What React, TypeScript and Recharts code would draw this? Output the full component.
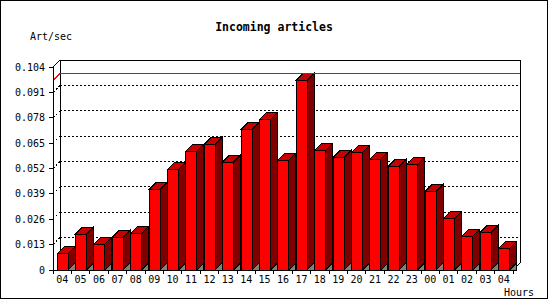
import React from 'react';
import { BarChart, Bar, XAxis, YAxis, CartesianGrid, ReferenceLine } from 'recharts';

const hours = ['04', '05', '06', '07', '08', '09', '10', '11', '12', '13', '14', '15', '16',
  '17', '18', '19', '20', '21', '22', '23', '00', '01', '02', '03', '04'];
const artPerSec = [0.0082, 0.0183, 0.0132, 0.0167, 0.0188, 0.0413, 0.0515, 0.0608, 0.0644, 0.0553,
  0.0720, 0.0771, 0.0562, 0.0971, 0.0612, 0.0577, 0.0602, 0.0567, 0.0532, 0.0541,
  0.0403, 0.0263, 0.0172, 0.0193, 0.0111];
const yTicks = [0, 0.013, 0.026, 0.039, 0.052, 0.065, 0.078, 0.091, 0.104];

const data = hours.map((h, i) => ({ hour: h, rate: artPerSec[i] }));
const maxRate = Math.max(...artPerSec);

const W = 550;
const H = 300;
const D = 7; // 3d depth
const MONO = '"DejaVu Sans Mono", monospace';
const PLOT = { left: 53, right: 513, top: 67, bottom: 270 };

const Bar3D = (props: any) => {
  const { x, y, width, height } = props;
  if (height == null || height <= 0) return null;
  const b = y + height;
  const r = x + width;
  return (
    <g stroke="#000" strokeWidth={1}>
      <polygon points={`${r},${b} ${r + D},${b - D} ${r + D},${b}`} fill="#808080" />
      <polygon points={`${r},${y} ${r + D},${y - D} ${r + D},${b - D} ${r},${b}`} fill="#800000" />
      <polygon points={`${x},${y} ${x + D},${y - D} ${r + D},${y - D} ${r},${y}`} fill="#c80000" />
      <rect x={x} y={y} width={width} height={height} fill="#ff0000" />
    </g>
  );
};

const HourTick = (props: any) => {
  const { x, y, payload, index } = props;
  const half = payload?.offset ?? 9.2;
  const last = index === hours.length - 1;
  return (
    <g>
      <line x1={x - half} y1={y} x2={x - half} y2={y + 4} stroke="#000" />
      {last && <line x1={x + half} y1={y} x2={x + half} y2={y + 4} stroke="#000" />}
      <text x={x} y={y + 13} textAnchor="middle" fontFamily={MONO} fontSize={10} fill="#000">
        {payload.value}
      </text>
    </g>
  );
};

const gridLine = (props: any) => {
  const { x1, y1, x2 } = props;
  if (Math.abs(y1 - PLOT.top) < 1 || Math.abs(y1 - PLOT.bottom) < 1) return <g key={props.key} />;
  return (
    <g key={props.key}>
      <line x1={x1} y1={y1} x2={x1 + D} y2={y1 - D} stroke="#000" strokeDasharray="2 2" />
      <line x1={x1 + D} y1={y1 - D} x2={x2 + D} y2={y1 - D} stroke="#000" strokeDasharray="2 2" />
    </g>
  );
};

const maxLine = (props: any) => {
  const { x1, y1, x2 } = props;
  const yb = Math.round(y1 - D) + 0.5;
  return (
    <g>
      <line x1={x1} y1={yb + D} x2={x1 + D} y2={yb} stroke="#ff0000" strokeWidth={1} />
      <line x1={x1 + D} y1={yb} x2={x2 + D} y2={yb} stroke="#ff0000" strokeWidth={1} />
    </g>
  );
};

export default function App() {
  return (
    <div style={{ position: 'absolute', left: 0, top: 0, width: W, height: H, background: '#fff' }}>
      <svg width={W} height={H} style={{ position: 'absolute', left: 0, top: 0 }} shapeRendering="crispEdges">
        <rect x={0.5} y={0.5} width={547} height={298} fill="#fff" stroke="#000" />
        <text x={274} y={31} textAnchor="middle" fontFamily={MONO} fontWeight="bold" fontSize={11.5} fill="#000">
          Incoming articles
        </text>
        <text x={30} y={40} fontFamily={MONO} fontSize={10} fill="#000">Art/sec</text>
        <text x={504} y={296} fontFamily={MONO} fontSize={10} fill="#000">Hours</text>
        <path
          d={`M${PLOT.left + D},${PLOT.bottom - D} V${PLOT.top - D} H${PLOT.right + D} V${PLOT.bottom - D}`}
          fill="none"
          stroke="#000"
        />
        <line x1={PLOT.left} y1={PLOT.top} x2={PLOT.left + D} y2={PLOT.top - D} stroke="#000" />
        <line x1={PLOT.right} y1={PLOT.bottom} x2={PLOT.right + D} y2={PLOT.bottom - D} stroke="#000" />
      </svg>
      <div style={{ position: 'absolute', left: 0, top: 0 }}>
        <BarChart
          width={W}
          height={H}
          data={data}
          margin={{ top: 67, right: 37, bottom: 0, left: 0 }}
          style={{ shapeRendering: 'crispEdges' }}
        >
          <CartesianGrid vertical={false} horizontal={gridLine} stroke="#000" />
          <XAxis
            dataKey="hour"
            height={30}
            interval={0}
            tickLine={false}
            tickSize={0}
            tickMargin={0}
            axisLine={{ stroke: '#000' }}
            tick={<HourTick />}
          />
          <YAxis
            width={53}
            domain={[0, 0.104]}
            ticks={yTicks}
            interval={0}
            tickSize={4}
            tickMargin={4}
            axisLine={{ stroke: '#000' }}
            tickLine={{ stroke: '#000' }}
            tick={{ fill: '#000', fontSize: 10, fontFamily: MONO }}
            tickFormatter={(v: number) => (v === 0 ? '0' : v.toFixed(3))}
          />
          <ReferenceLine y={maxRate} stroke="#ff0000" shape={maxLine} />
          <Bar dataKey="rate" barSize={11} shape={<Bar3D />} isAnimationActive={false} />
        </BarChart>
      </div>
    </div>
  );
}
